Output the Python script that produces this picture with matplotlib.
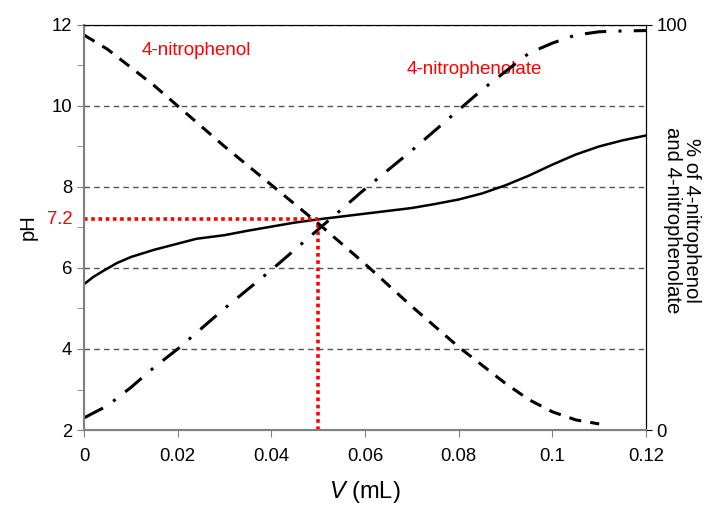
import matplotlib.pyplot as plt
import numpy as np

plt.rcParams['font.family'] = ['Liberation Sans', 'DejaVu Sans']
plt.rcParams['mathtext.fontset'] = 'custom'
plt.rcParams['mathtext.it'] = 'Liberation Sans:italic'
plt.rcParams['mathtext.rm'] = 'Liberation Sans'

# titration curve (pH vs added volume)
v_ph = [0, 0.002, 0.004, 0.007, 0.01, 0.015, 0.02, 0.024, 0.03, 0.035, 0.04, 0.045,
        0.05, 0.055, 0.06, 0.065, 0.07, 0.075, 0.08, 0.085, 0.09, 0.095, 0.1, 0.105,
        0.11, 0.115, 0.12]
ph = [5.6, 5.78, 5.92, 6.12, 6.27, 6.45, 6.6, 6.72, 6.81, 6.92, 7.02, 7.12,
      7.2, 7.27, 7.34, 7.41, 7.48, 7.58, 7.69, 7.84, 8.04, 8.28, 8.55, 8.8,
      9.0, 9.15, 9.27]

# % of 4-nitrophenol
v_phenol = [0, 0.005, 0.01, 0.015, 0.02, 0.03, 0.04, 0.05, 0.06, 0.07, 0.08,
            0.085, 0.09, 0.095, 0.1, 0.105, 0.11]
pct_phenol = [97.5, 94.0, 89.5, 85.0, 80, 70, 60.5, 51, 41, 30.5, 20.5,
              16, 11.5, 7.5, 4.5, 2.5, 1.5]

# % of 4-nitrophenolate
v_phenolate = [0, 0.005, 0.01, 0.015, 0.02, 0.03, 0.04, 0.05, 0.06, 0.07, 0.08,
               0.085, 0.09, 0.095, 0.1, 0.105, 0.11, 0.115, 0.12]
pct_phenolate = [3, 6.0, 10.5, 15.5, 20, 30, 39.5, 49.5, 59.5, 69, 79,
                 84, 88.5, 93, 95.5, 97.5, 98.3, 98.5, 98.6]

pka = 7.2
v_half = 0.05

xticks = [0, 0.02, 0.04, 0.06, 0.08, 0.1, 0.12]
xlabels = ['0', '0.02', '0.04', '0.06', '0.08', '0.1', '0.12']

fig = plt.figure(figsize=(7.06, 5.08), dpi=100)
ax = fig.add_axes([0.119, 0.1535, 0.796, 0.7975])
ax2 = ax.twinx()

ax.set_xlim(0, 0.12)
ax.set_ylim(2, 12)
ax2.set_ylim(0, 100)

for y in [4, 6, 8, 10, 12]:
    ax.axhline(y, color='#555555', lw=1, ls=(0, (4, 3)), zorder=1)

ax.plot(v_ph, ph, color='black', lw=1.8, zorder=4)
ax2.plot(v_phenol, pct_phenol, color='black', lw=2.2, ls=(0, (4, 3)))
ax2.plot(v_phenolate, pct_phenolate, color='black', lw=2.2, ls=(0, (7, 4, 1, 4)))

ax.plot([0, v_half], [pka, pka], color='red', lw=2.6, ls=(0, (1, 1)), zorder=5)
ax.plot([v_half, v_half], [2, pka], color='red', lw=2.6, ls=(0, (1, 1)), zorder=5)

ax.set_xticks(xticks)
ax.set_xticklabels(xlabels)
ax.set_yticks([2, 4, 6, 8, 10, 12])
ax.set_yticks([3, 5, 7, 9, 11], minor=True)
ax.tick_params(axis='both', which='both', direction='out', color='#808080',
               labelsize=13.3, length=5)
ax.tick_params(axis='x', pad=8)
ax.text(-0.0025, pka, '7.2', color='red', fontsize=13.3, ha='right', va='center')

ax2.set_yticks([0, 100])
ax2.tick_params(axis='y', direction='out', length=4, labelsize=13.3, color='black')

for s in ['left', 'bottom']:
    ax.spines[s].set_color('#808080')
    ax2.spines[s].set_color('#808080')
    ax2.spines[s].set_linewidth(1.5)
ax2.spines['right'].set_color('black')
ax2.spines['top'].set_color('black')

ax.set_ylabel('pH', fontsize=14.5, labelpad=10)
ax.set_xlabel('$V$ (mL)', fontsize=17, labelpad=10)
fig.text(682 / 706, 1 - 220 / 508, '% of 4-nitrophenol\nand 4-nitrophenolate',
         fontsize=14.6, rotation=-90, ha='center', va='center', linespacing=1.05)

ax.text(0.0122, 11.38, '4-nitrophenol', color='red', fontsize=13.5, va='center')
ax.text(0.0689, 10.9, '4-nitrophenolate', color='red', fontsize=13.5, va='center')

fig.savefig('out.png', dpi=100)
